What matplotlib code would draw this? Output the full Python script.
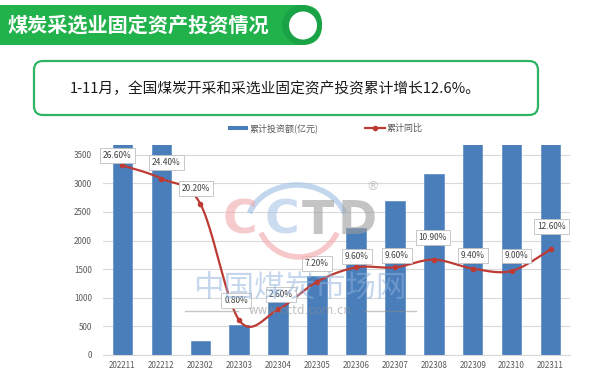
import numpy as np
import matplotlib
matplotlib.use('Agg')
import matplotlib.pyplot as plt
from matplotlib.patches import FancyBboxPatch, Circle, Arc, Rectangle

plt.rcParams['font.family'] = ['Noto Sans CJK SC', 'DejaVu Sans']

# ---------------- data ----------------
categories = ['202211', '202212', '202302', '202303', '202304', '202305',
              '202306', '202307', '202308', '202309', '202310', '202311']
investment = [3900, 4400, 250, 530, 1050, 1375, 2220, 2700, 3155, 3750, 4100, 4450]
growth = [26.6, 24.4, 20.2, 0.8, 2.6, 7.2, 9.6, 9.6, 10.9, 9.4, 9.0, 12.6]
growth_labels = ['26.60%', '24.40%', '20.20%', '0.80%', '2.60%', '7.20%',
                 '9.60%', '9.60%', '10.90%', '9.40%', '9.00%', '12.60%']
yticks = [0, 500, 1000, 1500, 2000, 2500, 3000, 3500]
title = '煤炭采选业固定资产投资情况'
summary = '1-11月，全国煤炭开采和采选业固定资产投资累计增长12.6%。'
legend_bar = '累计投资额(亿元)'
legend_line = '累计同比'

# label offsets (pixels, dx, dy-up)
label_off = [(-5, 10), (5, 16), (-4, 15), (-3, 20), (3, 15), (0, 18),
             (1, 11), (2, 12), (-1, 22), (0, 13), (5, 15), (1, 23)]

W, H = 600, 376
fig = plt.figure(figsize=(6, 3.76), dpi=100)
fig.patch.set_facecolor('white')

# background overlay in pixel coords
bg = fig.add_axes([0, 0, 1, 1], zorder=0)
bg.set_xlim(0, W); bg.set_ylim(H, 0); bg.axis('off')

green = '#22B24C'
bg.add_patch(FancyBboxPatch((-30, 5), 352, 40, boxstyle='round,pad=0,rounding_size=20',
                            fc=green, ec='none'))
bg.add_patch(Circle((302, 25), 20, fc='#1AA346', ec='none'))
bg.add_patch(Circle((303, 25.5), 14, fc='white', ec='none'))
bg.text(7, 25, title, color='white', fontsize=14.5, fontweight='bold', va='center', ha='left')

bg.add_patch(FancyBboxPatch((34, 61), 504, 54, boxstyle='round,pad=0,rounding_size=9',
                            fc='white', ec='#2DB563', lw=1.6))
bg.text(275, 89, summary, color='#1a1a1a', fontsize=10.6, va='center', ha='center')

# legend
bg.add_patch(Rectangle((228, 126), 20, 4, fc='#4A7EBB', ec='none'))
bg.text(250, 128, legend_bar, fontsize=6.5, color='#595959', va='center', ha='left')
bg.plot([365, 385], [128, 128], color='#BE3A34', lw=1.6)
bg.plot([375], [128], 'o', color='#BE3A34', ms=3)
bg.text(387, 128, legend_line, fontsize=6.5, color='#595959', va='center', ha='left')

# main axes
left, right, bottom, top = 103, 570, 355, 145
ax = fig.add_axes([left / W, 1 - bottom / H, (right - left) / W, (bottom - top) / H], zorder=1)
ax.patch.set_alpha(0)
x = np.arange(len(categories))
ax.bar(x, investment, width=0.5, color='#4A7EBB', edgecolor='#5B8BC6', lw=0.5, zorder=2)
ax.set_xlim(-0.5, len(categories) - 0.5)
ax.set_ylim(0, 3670)
ax.set_yticks(yticks)
ax.set_yticklabels([str(v) for v in yticks])
ax.set_xticks(x)
ax.set_xticklabels(categories)
ax.tick_params(axis='both', length=0, labelsize=5.8, labelcolor='#595959')
ax.tick_params(axis='y', pad=8)
ax.tick_params(axis='x', pad=4)
ax.grid(axis='y', color='#D9D9D9', lw=0.8, zorder=0)
ax.set_axisbelow(True)
for s in ['top', 'right', 'left']:
    ax.spines[s].set_visible(False)
ax.spines['bottom'].set_color('#D9D9D9')
ax.spines['bottom'].set_linewidth(0.8)

# secondary axis for growth line
ax2 = ax.twinx()
ax2.set_ylim(-5, 30)
ax2.set_yticks([])
for s in ax2.spines.values():
    s.set_visible(False)


def smooth(xs, ys, n=24):
    xs = np.asarray(xs, float); ys = np.asarray(ys, float)
    N = len(xs)
    ox, oy = [], []
    for i in range(N - 1):
        i0 = max(i - 1, 0); i3 = min(i + 2, N - 1)
        p0 = np.array([xs[i0], ys[i0]]); p1 = np.array([xs[i], ys[i]])
        p2 = np.array([xs[i + 1], ys[i + 1]]); p3 = np.array([xs[i3], ys[i3]])
        c1 = p1 + (p2 - p0) / 6.0
        c2 = p2 - (p3 - p1) / 6.0
        t = np.linspace(0, 1, n)[:, None]
        pts = (1 - t) ** 3 * p1 + 3 * (1 - t) ** 2 * t * c1 + 3 * (1 - t) * t ** 2 * c2 + t ** 3 * p2
        ox.extend(pts[:, 0]); oy.extend(pts[:, 1])
    return np.array(ox), np.array(oy)

sx, sy = smooth(x, growth)
ax2.plot(sx, sy, color='#BE3A34', lw=1.6, zorder=3)
ax2.plot(x, growth, 'o', color='#BE3A34', ms=3, zorder=4)

for xi, yi, lab, (dx, dy) in zip(x, growth, growth_labels, label_off):
    ax2.annotate(lab, (xi, yi), xytext=(dx * 0.72, dy * 0.72), textcoords='offset points',
                 ha='center', va='center', fontsize=6, color='#404040', zorder=5,
                 bbox=dict(boxstyle='square,pad=0.35', fc='white', ec='#BFBFBF', lw=0.6))

# watermark overlay
wm = fig.add_axes([0, 0, 1, 1], zorder=3)
wm.set_xlim(0, W); wm.set_ylim(H, 0); wm.axis('off'); wm.patch.set_alpha(0)
wm.add_patch(Arc((297, 226), 100, 82, theta1=195, theta2=345, color='#A9C6E8', lw=4, alpha=0.7))
wm.add_patch(Arc((299, 215), 84, 84, theta1=25, theta2=155, color='#F3B1B3', lw=4, alpha=0.7))
for ch, cx, col in [('C', 240, '#F0A9AC'), ('C', 282, '#A9C6E8'), ('T', 318, '#9E9E9E'), ('D', 357, '#9E9E9E')]:
    wm.text(cx, 221, ch, fontsize=34, color=col, alpha=0.6, ha='center', va='center',
            family='DejaVu Sans', fontweight='bold')
wm.text(372, 187, '®', fontsize=9, color='#9E9E9E', alpha=0.6, ha='center', va='center',
        family='DejaVu Sans')
wm.text(300, 288, '中国煤炭市场网', fontsize=22, color='#8EB1DC', alpha=0.5, ha='center',
        va='center')
wm.text(300, 311, 'www.cctd.com.cn', fontsize=8.5, color='#8C8C8C', alpha=0.55, ha='center',
        va='center', family='DejaVu Sans')
wm.plot([185, 238], [311, 311], color='#8C8C8C', alpha=0.5, lw=1)
wm.plot([364, 416], [311, 311], color='#8C8C8C', alpha=0.5, lw=1)

fig.savefig('out.png', dpi=100)
